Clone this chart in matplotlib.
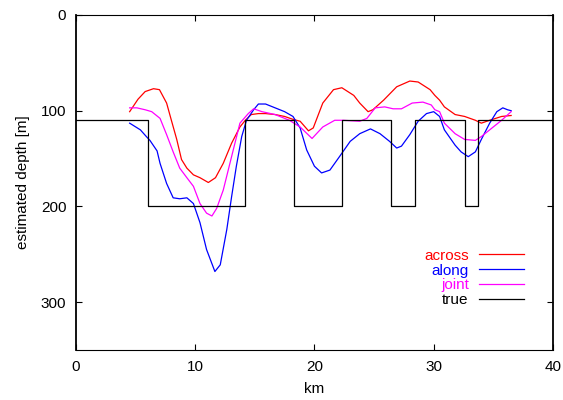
import matplotlib
matplotlib.use("Agg")
import matplotlib.pyplot as plt

plt.rcParams["font.family"] = ["Liberation Sans", "DejaVu Sans"]

# across (red)
across_km = [4.5, 5.2, 5.8, 6.5, 7.0, 7.6, 8.0, 8.45, 8.85, 9.3, 9.85, 10.4, 11.1, 11.7,
             12.35, 13.05, 13.75, 14.2, 14.7, 15.3, 15.9, 16.7, 17.5, 18.2,
             18.8, 19.5, 19.9, 20.7, 21.6, 22.3, 23.3, 23.8, 24.5, 24.9,
             25.8, 26.9, 28.0, 28.7, 29.7, 30.1, 30.5, 30.9, 31.8, 32.6, 33.5, 34.0,
             34.7, 35.7, 36.5]
across_depth = [101, 88, 80, 77, 78, 92, 110, 130, 151, 160, 167, 170, 175, 170,
                155, 134, 117, 110, 104, 103, 103, 104, 106, 109,
                111, 121, 118, 92, 78, 76, 84, 92, 101, 99,
                89, 75, 69, 70, 78, 84, 89, 96, 104, 106, 110, 113,
                110, 106, 105]

# along (blue)
along_km = [4.5, 5.4, 5.9, 6.2, 6.8, 7.05, 7.6, 8.15, 8.7, 9.3, 9.85, 10.4, 10.95,
            11.65, 12.1, 12.65, 13.05, 13.45, 13.9, 14.3, 14.9, 15.3, 15.9, 16.7, 17.5,
            18.2, 18.8, 19.35, 20.0, 20.6, 21.3, 22.1, 23.0, 23.8,
            24.7, 25.5, 26.3, 26.9, 27.3, 28.0, 28.7, 29.4, 30.0, 30.5, 30.9, 31.8,
            32.3, 32.9, 33.5, 34.0, 34.7, 35.3, 35.8, 36.2, 36.5]
along_depth = [113, 120, 127, 131, 142, 155, 176, 191, 192, 191, 197, 217, 245,
               268, 261, 224, 190, 158, 127, 110, 99, 93, 93, 97, 101,
               106, 118, 141, 158, 165, 162, 148, 132, 124,
               119, 124, 132, 139, 137, 125, 111, 103, 101, 106, 120, 136,
               143, 148, 143, 130, 113, 101, 97, 99, 100]

# joint (magenta)
joint_km = [4.5, 5.1, 5.8, 6.35, 7.05, 7.6, 8.15, 8.7, 9.3, 9.85, 10.4, 10.95, 11.4,
            11.8, 12.35, 13.05, 13.75, 14.45, 14.9, 15.6, 16.7, 17.9, 18.8, 19.8,
            20.7, 21.7, 22.4, 23.8, 24.4, 25.1, 25.9, 26.6, 27.3, 28.2, 29.1,
            29.8, 30.1, 30.5, 30.9, 31.8, 32.6, 33.5, 34.0, 34.9, 35.7, 36.5]
joint_depth = [97, 97, 99, 101, 108, 125, 143, 160, 170, 179, 197, 207, 210,
               202, 183, 148, 113, 103, 98, 101, 104, 110, 117, 129,
               117, 110, 110, 111, 108, 97, 96, 98, 98, 92, 91,
               94, 99, 101, 113, 124, 130, 131, 127, 118, 110, 101]

# true profile (step edges)
true_km = [0, 6.05, 14.15, 18.3, 22.35, 26.45, 28.45, 32.6, 33.7, 40]
true_depth = [110, 200, 110, 200, 110, 200, 110, 200, 110, 110]

fig = plt.figure(figsize=(5.63, 4.0), dpi=100)
ax = fig.add_axes([0.135, 0.125, 0.847, 0.8375])

ax.plot(across_km, across_depth, color="#ff0000", linewidth=0.9, label="across")
ax.plot(along_km, along_depth, color="#0000ff", linewidth=0.9, label="along")
ax.plot(joint_km, joint_depth, color="#ff00ff", linewidth=0.9, label="joint")
ax.plot(true_km, true_depth, color="black", linewidth=0.9, drawstyle="steps-post",
        label="true")

ax.set_xlim(0, 40)
ax.set_ylim(350, 0)
ax.set_xticks([0, 10, 20, 30, 40])
ax.set_yticks([0, 100, 200, 300])
ax.tick_params(direction="in", top=True, right=True, length=4, width=0.8,
               labelsize=11, pad=7)
for side in ["left", "right"]:
    ax.spines[side].set_linewidth(1.3)
for side in ["top", "bottom"]:
    ax.spines[side].set_linewidth(0.8)

ax.set_xlabel("km", fontsize=11, labelpad=6)
ax.set_ylabel("estimated depth [m]", fontsize=11, labelpad=8)

ax.legend(loc="center right", bbox_to_anchor=(0.939, 0.215), frameon=False,
          markerfirst=False, labelcolor="linecolor", fontsize=11,
          handlelength=2.9, handletextpad=0.7, labelspacing=0.05,
          borderpad=0, borderaxespad=0)

fig.savefig("out.png", dpi=100)
